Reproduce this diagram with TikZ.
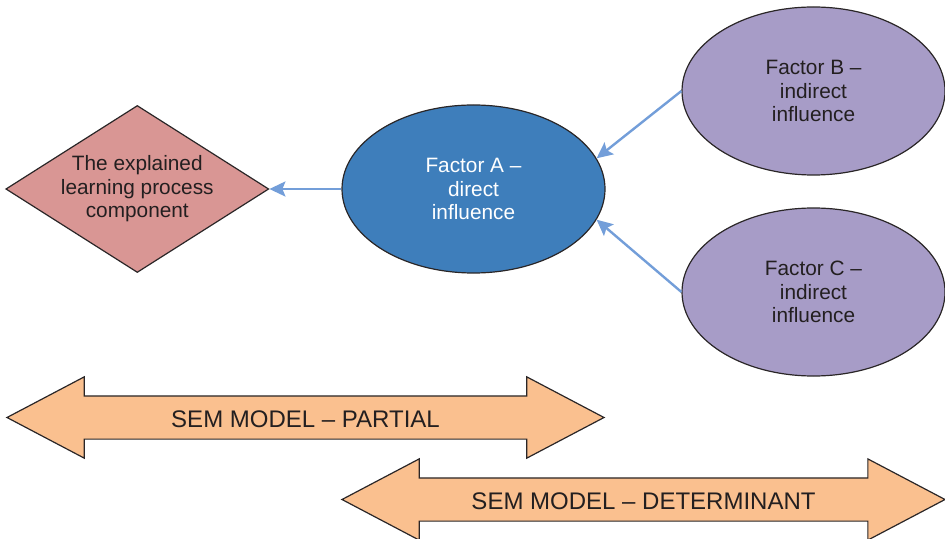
\documentclass[tikz,border=0pt]{standalone}
\usepackage{fontspec}
\setmainfont{Liberation Sans}
\usepackage{xcolor}
\usepackage{tikz}
\usetikzlibrary{shapes.geometric,shapes.arrows,arrows.meta,positioning}
\definecolor{outcomefill}{HTML}{D99694}
\definecolor{directfill}{HTML}{3E7EBB}
\definecolor{indirectfill}{HTML}{A79CC7}
\definecolor{modelfill}{HTML}{FAC08F}
\definecolor{linkblue}{HTML}{739ED9}
\definecolor{edgegray}{HTML}{2A2627}
\definecolor{textgray}{HTML}{231F20}
\tikzset{
    outcome/.style={diamond, draw=edgegray, line width=0.6pt, shape aspect=1.57, minimum width=131.5pt, minimum height=83.5pt, inner sep=0pt, align=center, text=textgray, fill=outcomefill},
    direct/.style={ellipse, draw=edgegray, line width=0.6pt, minimum width=131.5pt, minimum height=84pt, inner sep=0pt, align=center, text=white, fill=directfill},
    indirect/.style={ellipse, draw=edgegray, line width=0.6pt, minimum width=131.5pt, minimum height=84pt, inner sep=0pt, align=center, text=textgray, fill=indirectfill},
    model/.style={double arrow, draw=edgegray, line width=0.6pt, double arrow tip angle=55.5, double arrow head extend=9.5pt, font=\fontsize{12}{14}\selectfont, text height=10.5pt, text depth=0.5pt, inner ysep=5pt, inner xsep=0pt, text=textgray, fill=modelfill},
    link/.style={-{Stealth[length=8pt,width=7.5pt,inset=1.5pt]}, line width=1.2pt, draw=linkblue},
}

\begin{document}
\begin{tikzpicture}[x=0.5pt, y=-0.5pt, font=\fontsize{10.4}{11.8}\selectfont]
    \useasboundingbox (0,0) rectangle (945,539);

    \node[direct] (a) at (473.5,189) {Factor A --\\direct\\influence};
    \node[outcome, left=36pt of a] (expl) {The explained\\learning process\\component};
    \node[indirect] (b) at (813.5,91) {Factor B --\\indirect\\influence};
    \node[indirect] (c) at (813.5,292) {Factor C --\\indirect\\influence};

    \draw[link] (a.west) -- (expl.east);
    \draw[link] (b.west) -- (a.14);
    \draw[link] (c.west) -- (a.-14);

    \node[model, minimum height=298.5pt] (partial) at (305.5,417.5) {SEM MODEL -- PARTIAL};
    \node[model, minimum height=301.5pt] (determ) at (643.5,499.5) {SEM MODEL -- DETERMINANT};
\end{tikzpicture}
\end{document}
